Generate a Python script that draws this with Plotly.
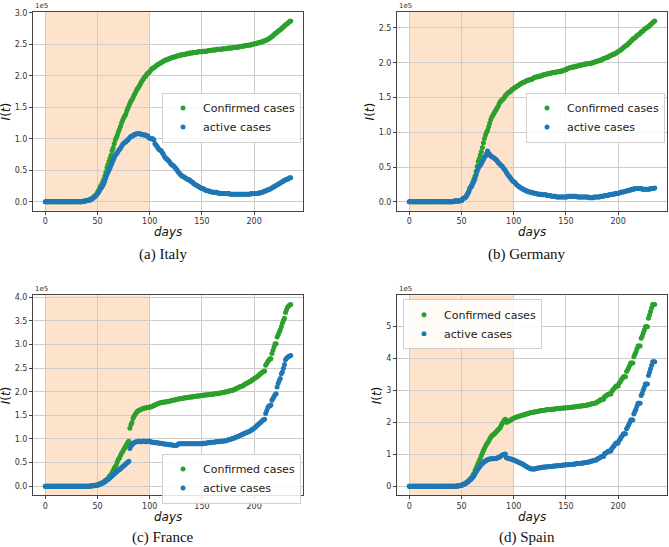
import numpy as np
import plotly.graph_objects as go

# daily counts in thousands, day 0 .. 235
days = list(range(236))

italy_confirmed = [
    0, 0, 0, 0, 0, 0, 0, 0, 0, 0,
    0, 0, 0, 0, 0, 0, 0, 0, 0, 0,
    0, 0, 0, 0, 0, 0, 0, 0, 0, 0,
    0, 0, 0, 0, 0, 0, 1, 1, 1, 2,
    2, 3, 3, 4, 5, 6, 7, 9, 10, 12,
    15, 18, 21, 25, 28, 32, 36, 41, 47, 54,
    59, 64, 69, 74, 81, 86, 92, 98, 102, 106,
    111, 115, 120, 125, 129, 133, 136, 139, 144, 148,
    152, 156, 160, 162, 165, 169, 172, 176, 179, 181,
    184, 187, 190, 193, 195, 198, 199, 202, 204, 205,
    207, 209, 211, 212, 213, 214, 216, 217, 218, 219,
    220, 221, 222, 223, 224, 225, 225, 226, 227, 227,
    228, 229, 229, 230, 230, 231, 231, 232, 232, 233,
    233, 233, 234, 234, 234, 235, 235, 235, 236, 236,
    236, 236, 237, 237, 237, 237, 238, 238, 238, 238,
    238, 239, 239, 239, 239, 239, 240, 240, 240, 240,
    241, 241, 241, 241, 242, 242, 242, 242, 242, 242,
    243, 243, 243, 243, 243, 244, 244, 244, 244, 244,
    245, 245, 245, 245, 245, 246, 246, 246, 247, 247,
    247, 248, 248, 248, 248, 249, 249, 249, 250, 250,
    251, 251, 251, 252, 252, 253, 253, 254, 254, 255,
    256, 256, 257, 258, 259, 260, 261, 262, 264, 265,
    267, 268, 269, 271, 272, 273, 275, 276, 278, 279,
    281, 282, 283, 285, 286, 287,
]
italy_active = [
    0, 0, 0, 0, 0, 0, 0, 0, 0, 0,
    0, 0, 0, 0, 0, 0, 0, 0, 0, 0,
    0, 0, 0, 0, 0, 0, 0, 0, 0, 0,
    0, 0, 0, 0, 0, 0, 1, 1, 1, 2,
    2, 2, 3, 3, 4, 5, 6, 8, 9, 11,
    13, 15, 18, 21, 23, 26, 29, 33, 38, 43,
    47, 50, 54, 58, 62, 66, 70, 74, 76, 78,
    81, 83, 85, 88, 91, 93, 94, 95, 97, 98,
    100, 102, 104, 104, 105, 107, 107, 108, 108, 108,
    108, 108, 107, 107, 106, 106, 106, 105, 105, 102,
    101, 100, 100, 100, 98, 92, 90, 88, 85, 83,
    82, 81, 78, 76, 72, 70, 68, 67, 65, 63,
    61, 59, 58, 57, 55, 53, 51, 48, 46, 44,
    42, 41, 40, 39, 38, 37, 36, 35, 35, 33,
    32, 31, 29, 28, 27, 26, 25, 24, 23, 22,
    21, 21, 20, 19, 18, 18, 17, 17, 16, 16,
    15, 15, 15, 15, 15, 14, 14, 13, 13, 13,
    13, 13, 13, 13, 13, 13, 13, 12, 12, 12,
    12, 12, 12, 12, 12, 12, 12, 12, 12, 12,
    12, 12, 12, 12, 12, 12, 12, 13, 13, 13,
    13, 13, 13, 13, 14, 14, 14, 15, 15, 16,
    17, 17, 18, 19, 19, 20, 21, 22, 23, 24,
    25, 26, 27, 28, 29, 30, 31, 32, 33, 34,
    35, 36, 36, 37, 38, 38,
]

germany_confirmed = [
    0, 0, 0, 0, 0, 0, 0, 0, 0, 0,
    0, 0, 0, 0, 0, 0, 0, 0, 0, 0,
    0, 0, 0, 0, 0, 0, 0, 0, 0, 0,
    0, 0, 0, 0, 0, 0, 0, 0, 0, 0,
    0, 0, 0, 1, 1, 1, 1, 1, 1, 2,
    2, 4, 5, 6, 7, 9, 12, 15, 20, 22,
    25, 29, 33, 37, 44, 51, 58, 62, 67, 72,
    78, 85, 91, 96, 100, 103, 108, 113, 118, 122,
    124, 127, 130, 132, 135, 137, 141, 144, 145, 147,
    148, 150, 153, 154, 156, 157, 158, 159, 161, 162,
    163, 164, 165, 166, 167, 168, 169, 170, 171, 172,
    172, 173, 174, 174, 175, 175, 176, 176, 177, 178,
    179, 179, 180, 180, 180, 181, 181, 182, 182, 183,
    183, 183, 184, 184, 185, 185, 185, 186, 186, 186,
    186, 187, 187, 187, 187, 188, 188, 188, 189, 190,
    190, 191, 192, 192, 193, 193, 194, 194, 194, 195,
    195, 195, 196, 196, 196, 197, 197, 197, 198, 198,
    198, 199, 199, 199, 199, 200, 200, 201, 201, 202,
    202, 203, 203, 204, 204, 205, 206, 206, 207, 207,
    208, 209, 210, 210, 211, 212, 212, 213, 214, 215,
    216, 217, 218, 219, 220, 222, 223, 224, 225, 226,
    228, 229, 231, 232, 234, 235, 236, 237, 239, 240,
    241, 242, 244, 245, 246, 248, 249, 250, 251, 252,
    253, 255, 256, 258, 259, 260,
]
germany_active = [
    0, 0, 0, 0, 0, 0, 0, 0, 0, 0,
    0, 0, 0, 0, 0, 0, 0, 0, 0, 0,
    0, 0, 0, 0, 0, 0, 0, 0, 0, 0,
    0, 0, 0, 0, 0, 0, 0, 0, 0, 0,
    0, 0, 0, 1, 1, 1, 1, 1, 1, 2,
    2, 4, 5, 6, 7, 9, 12, 15, 19, 21,
    23, 27, 30, 33, 39, 44, 48, 51, 53, 55,
    58, 61, 64, 66, 69, 73, 70, 68, 66, 65,
    64, 63, 62, 61, 59, 57, 55, 54, 52, 51,
    49, 47, 45, 42, 40, 38, 36, 34, 32, 30,
    29, 28, 26, 24, 23, 22, 21, 20, 19, 18,
    17, 17, 16, 15, 15, 14, 14, 13, 13, 13,
    12, 12, 12, 11, 11, 11, 11, 10, 10, 10,
    10, 10, 9, 9, 9, 9, 8, 8, 8, 8,
    8, 7, 7, 7, 7, 7, 7, 7, 7, 7,
    7, 7, 8, 8, 8, 8, 8, 8, 8, 8,
    8, 7, 7, 7, 7, 7, 7, 7, 7, 7,
    7, 7, 6, 6, 6, 6, 6, 7, 7, 7,
    7, 7, 7, 8, 8, 8, 8, 9, 9, 9,
    9, 10, 10, 10, 11, 11, 11, 12, 12, 12,
    12, 13, 13, 14, 14, 14, 15, 15, 16, 16,
    16, 17, 17, 18, 18, 18, 19, 19, 19, 19,
    19, 19, 19, 18, 18, 18, 18, 18, 18, 18,
    18, 19, 19, 19, 19, 20,
]

france_confirmed = [
    0, 0, 0, 0, 0, 0, 0, 0, 0, 0,
    0, 0, 0, 0, 0, 0, 0, 0, 0, 0,
    0, 0, 0, 0, 0, 0, 0, 0, 0, 0,
    0, 0, 0, 0, 0, 0, 0, 0, 0, 0,
    0, 0, 0, 0, 1, 1, 1, 1, 2, 2,
    2, 4, 5, 5, 7, 8, 9, 11, 13, 14,
    16, 20, 22, 25, 29, 33, 38, 41, 45, 52,
    57, 60, 65, 70, 73, 77, 81, 85, 89, 93,
    95, 123, 130, 135, 144, 148, 152, 155, 158, 160,
    161, 162, 163, 164, 165, 165, 166, 166, 167, 167,
    168, 168, 169, 170, 171, 172, 173, 174, 175, 176,
    177, 177, 178, 178, 178, 179, 179, 179, 180, 180,
    181, 181, 182, 182, 183, 183, 184, 184, 185, 186,
    186, 186, 187, 187, 187, 188, 188, 188, 189, 189,
    189, 189, 190, 190, 190, 191, 191, 191, 191, 192,
    192, 192, 193, 193, 193, 194, 194, 194, 195, 195,
    195, 195, 196, 196, 196, 197, 197, 197, 198, 198,
    198, 199, 199, 200, 200, 201, 201, 202, 203, 203,
    204, 205, 206, 207, 208, 209, 210, 211, 212, 213,
    214, 216, 217, 218, 219, 221, 222, 223, 225, 226,
    228, 229, 231, 232, 234, 236, 238, 240, 242, 243,
    244, 256, 260, 264, 267, 270, 270, 281, 288, 295,
    302, 302, 316, 321, 326, 331, 338, 345, 351, 356,
    368, 374, 379, 382, 384, 385,
]
france_active = [
    0, 0, 0, 0, 0, 0, 0, 0, 0, 0,
    0, 0, 0, 0, 0, 0, 0, 0, 0, 0,
    0, 0, 0, 0, 0, 0, 0, 0, 0, 0,
    0, 0, 0, 0, 0, 0, 0, 0, 0, 0,
    0, 0, 0, 0, 1, 1, 1, 1, 2, 2,
    2, 3, 4, 4, 6, 7, 8, 10, 11, 13,
    14, 16, 18, 20, 22, 24, 26, 28, 30, 32,
    34, 35, 37, 39, 41, 43, 45, 47, 49, 51,
    53, 80, 85, 88, 91, 92, 93, 94, 94, 95,
    95, 94, 94, 95, 96, 95, 94, 94, 95, 96,
    95, 94, 93, 93, 93, 92, 92, 92, 92, 91,
    91, 91, 90, 90, 90, 89, 89, 89, 88, 88,
    88, 88, 87, 87, 86, 86, 87, 89, 90, 90,
    90, 90, 90, 90, 90, 90, 90, 90, 90, 90,
    90, 90, 90, 90, 90, 90, 90, 90, 90, 90,
    90, 91, 91, 91, 91, 92, 92, 92, 92, 93,
    93, 93, 93, 94, 94, 94, 94, 95, 95, 95,
    95, 96, 96, 97, 97, 98, 99, 99, 100, 101,
    101, 102, 103, 104, 105, 106, 107, 108, 109, 110,
    111, 112, 113, 114, 115, 116, 117, 118, 120, 121,
    123, 125, 127, 129, 131, 133, 135, 137, 139, 141,
    142, 154, 160, 166, 170, 170, 172, 182, 186, 190,
    194, 196, 210, 218, 224, 228, 238, 242, 250, 258,
    268, 271, 273, 275, 276, 277,
]

spain_confirmed = [
    0, 0, 0, 0, 0, 0, 0, 0, 0, 0,
    0, 0, 0, 0, 0, 0, 0, 0, 0, 0,
    0, 0, 0, 0, 0, 0, 0, 0, 0, 0,
    0, 0, 0, 0, 0, 0, 0, 0, 0, 0,
    0, 0, 0, 0, 0, 1, 1, 1, 2, 2,
    2, 5, 6, 8, 10, 12, 15, 18, 22, 25,
    28, 35, 40, 50, 57, 65, 73, 80, 87, 96,
    104, 112, 119, 126, 131, 136, 141, 148, 153, 158,
    160, 163, 166, 170, 173, 177, 180, 183, 190, 196,
    202, 207, 210, 200, 201, 203, 205, 207, 209, 211,
    213, 214, 216, 217, 218, 219, 220, 221, 222, 223,
    224, 225, 226, 227, 228, 229, 230, 231, 231, 232,
    232, 233, 234, 234, 235, 236, 236, 237, 237, 238,
    238, 239, 239, 240, 240, 240, 241, 241, 241, 242,
    242, 243, 243, 243, 244, 244, 244, 245, 245, 245,
    246, 246, 246, 246, 247, 247, 247, 248, 248, 249,
    249, 250, 250, 250, 251, 251, 252, 252, 253, 253,
    254, 254, 255, 256, 257, 258, 259, 260, 260, 261,
    264, 266, 267, 270, 272, 272, 272, 281, 282, 285,
    287, 289, 289, 289, 297, 302, 305, 310, 314, 314,
    314, 323, 327, 333, 337, 343, 343, 343, 359, 364,
    371, 378, 386, 386, 386, 405, 413, 420, 430, 439,
    439, 439, 463, 470, 480, 489, 499, 499, 499, 526,
    536, 547, 558, 569, 569, 569,
]
spain_active = [
    0, 0, 0, 0, 0, 0, 0, 0, 0, 0,
    0, 0, 0, 0, 0, 0, 0, 0, 0, 0,
    0, 0, 0, 0, 0, 0, 0, 0, 0, 0,
    0, 0, 0, 0, 0, 0, 0, 0, 0, 0,
    0, 0, 0, 0, 0, 1, 1, 1, 2, 2,
    2, 5, 6, 7, 9, 11, 13, 16, 19, 22,
    25, 29, 33, 40, 45, 50, 55, 59, 64, 68,
    71, 74, 77, 79, 81, 83, 84, 85, 86, 86,
    86, 86, 87, 87, 88, 89, 91, 93, 95, 97,
    99, 100, 101, 89, 88, 87, 86, 85, 84, 83,
    82, 81, 79, 78, 76, 75, 73, 72, 70, 68,
    66, 64, 62, 60, 58, 57, 55, 54, 54, 54,
    54, 55, 56, 57, 57, 58, 58, 59, 59, 60,
    60, 60, 61, 61, 61, 62, 62, 62, 63, 63,
    63, 64, 64, 64, 65, 65, 65, 66, 66, 66,
    67, 67, 67, 67, 68, 68, 68, 69, 69, 70,
    70, 71, 71, 71, 72, 72, 73, 73, 74, 74,
    75, 75, 76, 77, 78, 79, 80, 81, 81, 82,
    85, 87, 88, 91, 93, 93, 93, 102, 103, 106,
    108, 110, 110, 110, 118, 123, 126, 131, 135, 135,
    135, 144, 148, 154, 158, 164, 164, 164, 180, 185,
    192, 199, 207, 207, 207, 226, 234, 241, 251, 260,
    260, 260, 284, 291, 301, 310, 320, 320, 320, 347,
    357, 368, 379, 390, 390, 390,
]

captions = ["(a) Italy", "(b) Germany", "(c) France", "(d) Spain"]

W, H = 669, 547
# plot areas in pixels: left, right, top, bottom
boxes = [(33, 303, 9, 209), (397, 667, 9, 209), (33, 303, 294, 495), (397, 667, 294, 495)]
legend_pos = [(162, 90), (526, 90), (162, 453), (403, 298)]
ylabel_x = [6, 370, 6, 377]
caption_y = [253, 253, 537, 537]
days_y = [230, 230, 517, 517]

panels = [
    (italy_confirmed, italy_active),
    (germany_confirmed, germany_active),
    (france_confirmed, france_active),
    (spain_confirmed, spain_active),
]

fig = go.Figure()
annotations = []
shapes = []
font = "DejaVu Sans"

for i, (conf, act) in enumerate(panels):
    assert len(conf) == 236 and len(act) == 236, (i, len(conf), len(act))
    n = "" if i == 0 else str(i + 1)
    conf = np.array(conf) / 100.0  # in units of 1e5
    act = np.array(act) / 100.0
    leg = "legend" + n
    fig.add_trace(go.Scatter(x=days, y=conf, mode="markers", name="Confirmed cases",
                             marker=dict(color="#2ca02c", size=5), xaxis="x" + n, yaxis="y" + n,
                             legend=leg))
    fig.add_trace(go.Scatter(x=days, y=act, mode="markers", name="active cases",
                             marker=dict(color="#1f77b4", size=5), xaxis="x" + n, yaxis="y" + n,
                             legend=leg))

    l, r, t, b = boxes[i]
    ymax = conf.max()
    if i == 3:
        ytick = dict(dtick=1, tickformat="d")
    else:
        ytick = dict(dtick=0.5, tickformat=".1f")
    axis_common = dict(showgrid=True, gridcolor="#cccccc", gridwidth=1, zeroline=False,
                       showline=True, linecolor="#444444", linewidth=1, mirror=True,
                       ticks="outside", ticklen=3, tickcolor="#444444",
                       tickfont=dict(family=font, size=8, color="#333333"))
    fig.update_layout(**{
        "xaxis" + n: dict(domain=[l / W, r / W], anchor="y" + n, range=[-11.75, 246.75],
                          tickvals=[0, 50, 100, 150, 200], **axis_common),
        "yaxis" + n: dict(domain=[1 - b / H, 1 - t / H], anchor="x" + n,
                          range=[-0.05 * ymax, 1.05 * ymax], tick0=0, **ytick, **axis_common),
        leg: dict(x=legend_pos[i][0] / W, y=1 - legend_pos[i][1] / H, xanchor="left",
                  yanchor="top", bgcolor="rgba(255,255,255,0.85)", bordercolor="#d0d0d0",
                  borderwidth=1, font=dict(family=font, size=11, color="#222222"),
                  tracegroupgap=0, itemsizing="trace"),
    })

    # lockdown window shading
    shapes.append(dict(type="rect", xref="x" + n, yref="y" + n + " domain", x0=0, x1=100,
                       y0=0, y1=1, fillcolor="#fde3cb", line=dict(width=0), layer="below"))

    cx = (l + r) / 2 / W
    annotations += [
        dict(text="<i>days</i>", x=cx, y=1 - days_y[i] / H, xanchor="center", yanchor="middle",
             font=dict(family=font, size=12, color="#111111")),
        dict(text="<i>I</i>(<i>t</i>)", x=ylabel_x[i] / W, y=1 - (t + b) / 2 / H,
             xanchor="center", yanchor="middle", textangle=-90,
             font=dict(family=font, size=12, color="#111111")),
        dict(text="1e5", x=l / W, y=1 - t / H, xanchor="left", yanchor="bottom",
             font=dict(family=font, size=7, color="#333333")),
        dict(text=captions[i], x=cx - 5 / W, y=1 - caption_y[i] / H, xanchor="center",
             yanchor="middle", font=dict(family="Liberation Serif", size=15, color="#111111")),
    ]

for a in annotations:
    a.update(xref="paper", yref="paper", showarrow=False)

fig.update_layout(width=W, height=H, margin=dict(l=0, r=0, t=0, b=0),
                  plot_bgcolor="white", paper_bgcolor="white",
                  shapes=shapes, annotations=annotations, showlegend=True)

fig.write_html("out.html", config={"displayModeBar": False},
               post_script="document.body.style.margin='0px';")
